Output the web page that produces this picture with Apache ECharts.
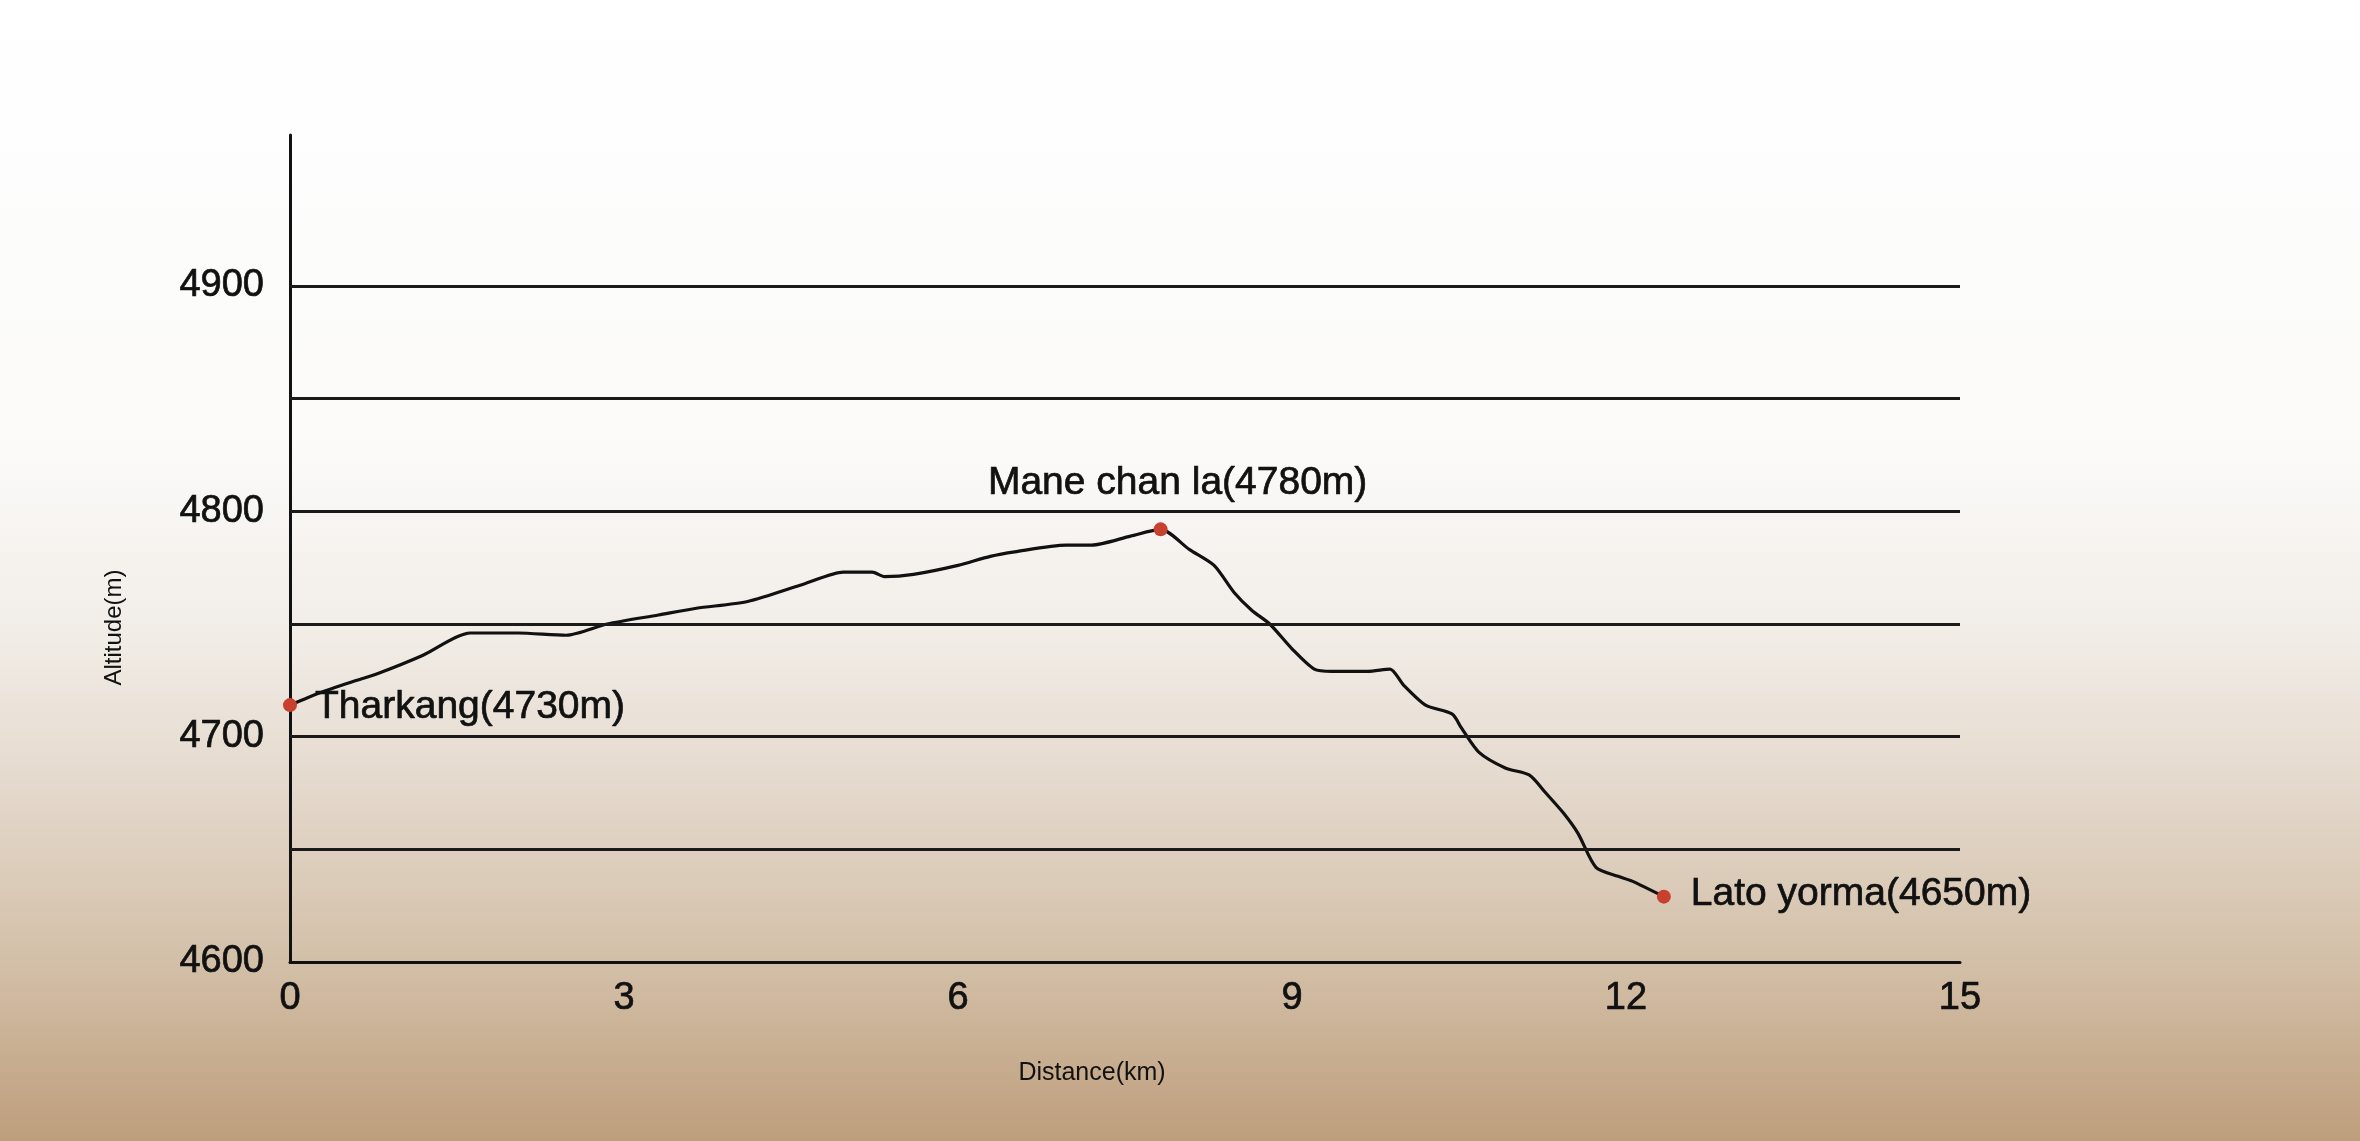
<!DOCTYPE html>
<html>
<head>
<meta charset="utf-8">
<script src="https://cdn.jsdelivr.net/npm/echarts@6/dist/echarts.min.js"></script>
<style>
html,body{margin:0;padding:0;width:100%;height:100%;overflow:hidden;background:#fff;}
#chart{width:2360px;height:1141px;}
</style>
</head>
<body>
<div id="chart"></div>
<script>
// ---- data ----
var distKm = [0,0.27,0.60,0.79,1.19,1.62,2.05,2.48,2.85,3.31,3.65,4.11,4.63,4.97,5.23,5.34,5.60,6.00,6.29,6.51,6.97,7.20,7.55,7.82,8.08,8.30,8.48,8.64,8.80,9.00,9.20,9.36,9.68,9.88,10.00,10.20,10.44,10.52,10.68,10.92,11.13,11.28,11.44,11.57,11.73,11.93,12.05,12.34];
var altM = [4714,4719.5,4725,4728,4736,4746,4746,4745,4750,4754,4757,4760,4768,4773,4773,4771,4772,4776,4780,4782,4785,4785,4789,4792,4783,4776,4764,4756,4750,4739,4730,4729,4729,4730,4723,4714,4710,4704,4693,4686,4683,4675,4666,4657,4642,4638,4636,4629];
var wpNames = ['Tharkang(4730m)','Mane chan la(4780m)','Lato yorma(4650m)'];
var wpDist = [0, 7.82, 12.34];
var wpAlt = [4714, 4792, 4629];
var gridValues = [4650, 4700, 4750, 4800, 4850, 4900];
var xTicks = [0, 3, 6, 9, 12, 15];
var yTicks = [4600, 4700, 4800, 4900];
var xName = 'Distance(km)';
var yName = 'Altitude(m)';

// ---- chart ----
var FONT = '"Liberation Sans", Arial, Helvetica, sans-serif';
var INK = '#111111';
var chart = echarts.init(document.getElementById('chart'));

var profile = distKm.map(function (d, i) { return [d, altM[i]]; });
var wpStyle = [
  { position: 'right', distance: 18, offset: [0, 2] },
  { position: 'top', distance: 20, offset: [17, 0] },
  { position: 'right', distance: 20, offset: [0, -2] }
];
var labelText = { fontFamily: FONT, fontSize: 39, color: INK, textBorderColor: INK, textBorderWidth: 0.7 };
var waypoints = wpNames.map(function (n, i) {
  return {
    name: n,
    value: [wpDist[i], wpAlt[i]],
    label: Object.assign({
      show: true,
      formatter: n,
      position: wpStyle[i].position,
      distance: wpStyle[i].distance,
      offset: wpStyle[i].offset
    }, labelText)
  };
});

var option = {
  animation: false,
  backgroundColor: {
    type: 'linear', x: 0, y: 0, x2: 0, y2: 1,
    colorStops: [
      { offset: 0, color: '#ffffff' },
      { offset: 0.4, color: '#fbfaf9' },
      { offset: 0.56, color: '#f1ece6' },
      { offset: 0.7, color: '#e3d7ca' },
      { offset: 0.85, color: '#d2bea6' },
      { offset: 1, color: '#be9e7c' }
    ]
  },
  grid: { left: 290, right: 400, top: 135, bottom: 179, containLabel: false },
  xAxis: {
    type: 'value',
    min: xTicks[0],
    max: xTicks[xTicks.length - 1],
    interval: xTicks[1] - xTicks[0],
    name: xName,
    nameLocation: 'middle',
    nameGap: 99,
    nameTextStyle: { fontFamily: FONT, fontSize: 25, color: INK, padding: [0, 66, 0, 0] },
    axisLine: { show: true, lineStyle: { color: INK, width: 3 } },
    axisTick: { show: false },
    splitLine: { show: false },
    axisLabel: { fontFamily: FONT, fontSize: 38, color: INK, margin: 18, textBorderColor: INK, textBorderWidth: 0.7 }
  },
  yAxis: {
    type: 'value',
    min: yTicks[0],
    max: 4967,
    interval: yTicks[1] - yTicks[0],
    name: yName,
    nameLocation: 'middle',
    nameRotate: 90,
    nameGap: 164,
    nameTextStyle: { fontFamily: FONT, fontSize: 24, color: INK, padding: [0, 158, 0, 0] },
    axisLine: { show: true, lineStyle: { color: INK, width: 3 } },
    axisTick: { show: false },
    splitLine: { show: false },
    axisLabel: {
      fontFamily: FONT, fontSize: 38, color: INK, margin: 26, textBorderColor: INK, textBorderWidth: 0.7,
      formatter: function (v) { return yTicks.indexOf(v) >= 0 ? String(v) : ''; }
    }
  },
  series: [
    {
      type: 'line',
      data: [],
      z: 1,
      silent: true,
      markLine: {
        silent: true,
        symbol: 'none',
        label: { show: false },
        lineStyle: { color: '#1a1a1a', width: 2.8, type: 'solid', opacity: 1 },
        data: gridValues.map(function (v) { return { yAxis: v }; })
      }
    },
    {
      type: 'line',
      data: profile,
      z: 3,
      clip: false,
      smooth: 0.25,
      showSymbol: false,
      lineStyle: { color: INK, width: 3.2 }
    },
    {
      type: 'scatter',
      data: waypoints,
      z: 4,
      clip: false,
      symbolSize: 14,
      itemStyle: { color: '#c8412f', opacity: 1 },
      label: labelText
    }
  ]
};
chart.setOption(option);
</script>
</body>
</html>
